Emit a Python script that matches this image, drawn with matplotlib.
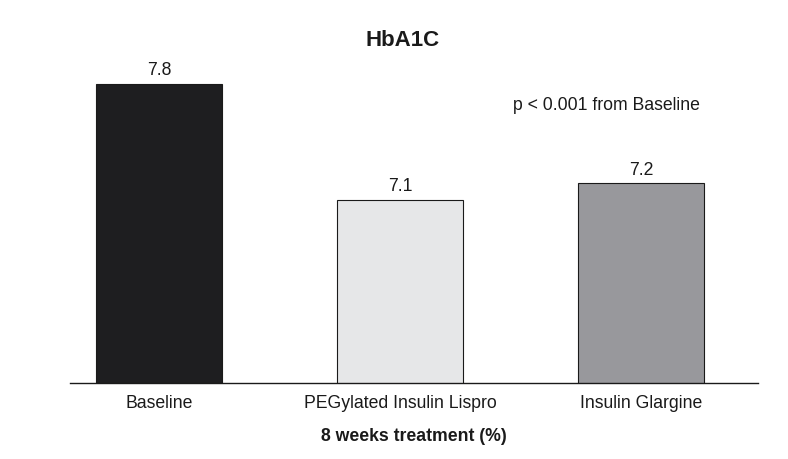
import matplotlib
matplotlib.use("Agg")
import matplotlib.pyplot as plt

plt.rcParams['font.family'] = ['Liberation Sans', 'DejaVu Sans']

categories = ["Baseline", "PEGylated Insulin Lispro", "Insulin Glargine"]
values = [7.8, 7.1, 7.2]
value_labels = ["7.8", "7.1", "7.2"]
colors = ["#1e1e20", "#e6e7e8", "#98989c"]

fig = plt.figure(figsize=(7.88, 4.60), dpi=100)
ax = fig.add_axes([70/788, 76.5/460, 688/788, 332/460])

x = list(range(len(categories)))
ax.bar(x, values, width=0.523, color=colors, edgecolor="#1a1a1a", linewidth=0.8, bottom=0)
ax.set_ylim(6.0, 8.0)
ax.set_xlim(-0.369, 2.485)

for xi, v, lab in zip(x, values, value_labels):
    ax.annotate(lab, (xi, v), xytext=(0, 4), textcoords="offset points",
                ha="center", va="bottom", fontsize=12.7, color="#1a1a1a")

for s in ["top", "right", "left"]:
    ax.spines[s].set_visible(False)
ax.spines["bottom"].set_linewidth(1.0)
ax.spines["bottom"].set_color("#1a1a1a")
ax.set_yticks([])
ax.set_xticks(x)
ax.set_xticklabels(categories, fontsize=12.7, color="#1a1a1a")
ax.tick_params(axis="x", length=0, pad=8)
ax.set_xlabel("8 weeks treatment (%)", fontsize=12.7, fontweight="bold", labelpad=12, color="#1a1a1a")

fig.text(403/788, 1 - 41/460, "HbA1C", ha="center", va="center", fontsize=16, fontweight="bold", color="#1a1a1a")
fig.text(513/788, 1 - 105/460, "p < 0.001 from Baseline", ha="left", va="center", fontsize=12.7, color="#1a1a1a")

fig.savefig("out.png", dpi=100)
